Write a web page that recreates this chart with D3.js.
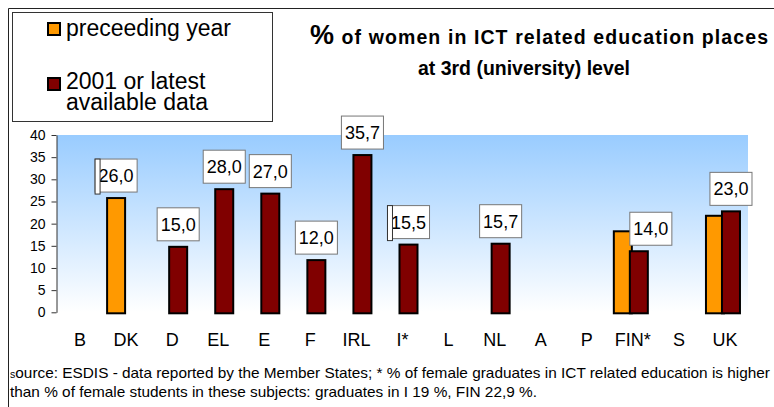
<!DOCTYPE html>
<html><head><meta charset="utf-8">
<script src="https://cdn.jsdelivr.net/npm/d3@7"></script>
<style>html,body{margin:0;padding:0;background:#fff;} svg{display:block;font-family:Arial,"Liberation Sans",sans-serif;}</style>
</head><body><svg id="c" width="774" height="407"></svg>
<script>
// ---- data ----
const categories = ["B","DK","D","EL","E","F","IRL","I*","L","NL","A","P","FIN*","S","UK"];
const precedingYear = [null,26.0,null,null,null,null,null,null,null,null,null,null,18.5,null,22.0];
const latestData    = [null,null,15.0,28.0,27.0,12.0,35.7,15.5,null,15.7,null,null,14.0,null,23.0];
const yTicks = [0,5,10,15,20,25,30,35,40];
const seriesKeys = ["prev","latest"];
const seriesNames = ["preceeding year","2001 or latest available data"];
const labelStubs = ["DK","I*"];
const titleLine1 = ["%"," of women in ICT related education places"];
const titleLine2 = "at 3rd (university) level";
const footSmall = "s";
const footLine1 = "ource: ESDIS - data reported by the Member States; * % of female graduates in ICT related education is higher";
const footLine2 = "than % of female students in these subjects: graduates in I 19 %, FIN 22,9 %.";

// ---- layout ----
const colors = {prev:"#FF9900", latest:"#800000"};
const svg = d3.select("#c");
const plot = {left:57, right:748, top:135, bottom:312.3};

const x = d3.scaleBand().domain(categories).range([plot.left, plot.right]);
const sub = d3.scaleBand().domain(seriesKeys).range([-20, 12]);
const y = d3.scaleLinear().domain([0,40]).range([plot.bottom, plot.top]);
const barW = 20;
const fmt = v => d3.format(".1f")(v).replace(".", ",");

// gradient background
const defs = svg.append("defs");
const grad = defs.append("linearGradient").attr("id","bg").attr("x1",0).attr("y1",0).attr("x2",0).attr("y2",1);
grad.append("stop").attr("offset","0%").attr("stop-color","#99CCFF");
grad.append("stop").attr("offset","100%").attr("stop-color","#FFFFFF");
svg.append("rect").attr("x",plot.left).attr("y",plot.top)
  .attr("width",plot.right-plot.left).attr("height",plot.bottom-plot.top)
  .attr("fill","url(#bg)");

// frame
svg.append("path").attr("d","M8.5,407V8.5H774").attr("fill","none").attr("stroke","#222").attr("stroke-width",1);

// y axis
const yAxis = svg.append("g").attr("transform",`translate(${plot.left-0.5},0)`)
  .call(d3.axisLeft(y).tickValues(yTicks).tickSize(5).tickSizeOuter(0).tickPadding(6));
yAxis.selectAll("text").attr("font-size",14).attr("font-family","Arial,'Liberation Sans',sans-serif").attr("fill","#000");
yAxis.selectAll("line,path").attr("stroke","#333");

// x axis (labels only)
const xAxis = svg.append("g").attr("transform",`translate(0,${plot.bottom})`)
  .call(d3.axisBottom(x).tickSize(0).tickPadding(21));
xAxis.select(".domain").remove();
xAxis.selectAll("text").attr("font-size",18).attr("font-family","Arial,'Liberation Sans',sans-serif").attr("fill","#000");

// bars
const rows = categories.map((c,i)=>({cat:c, prev:precedingYear[i], latest:latestData[i]}));
seriesKeys.forEach(k=>{
  svg.append("g").selectAll("rect").data(rows.filter(r=>r[k]!=null)).join("rect")
    .attr("x", d=> x(d.cat)+x.bandwidth()/2+sub(k)+1)
    .attr("y", d=> y(d[k])+1)
    .attr("width", barW-2)
    .attr("height", d=> y(0)-y(d[k]))
    .attr("fill", colors[k]).attr("stroke","#000").attr("stroke-width",2);
});

// data labels
const labelShift = {"FIN*":12};
const lg = svg.append("g");
rows.forEach(r=>{
  const k = r.latest!=null ? "latest" : (r.prev!=null ? "prev" : null);
  if(!k) return;
  const v = r[k];
  const cx = x(r.cat)+x.bandwidth()/2+sub(k)+barW/2 + (labelShift[r.cat]||0);
  const g = lg.append("g");
  const box = g.append("rect");
  const t = g.append("text").attr("x",cx).attr("text-anchor","middle")
    .attr("font-size",18).attr("fill","#000").text(fmt(v));
  const tw = t.node().getComputedTextLength();
  const bw = tw+7, bh = 33;
  const bottom = y(v)-5;
  box.attr("x",cx-bw/2).attr("y",bottom-bh).attr("width",bw).attr("height",bh)
    .attr("fill","#fff").attr("stroke","#777").attr("stroke-width",1);
  t.attr("y",bottom-10);
  if(labelStubs.includes(r.cat)){
    g.append("rect").attr("x",cx-bw/2).attr("y",bottom-bh).attr("width",5).attr("height",bh+2)
      .attr("fill","#fff").attr("stroke","#333").attr("stroke-width",1);
  }
});

// legend
svg.append("rect").attr("x",12.5).attr("y",12.5).attr("width",260).attr("height",109)
  .attr("fill","#fff").attr("stroke","#333").attr("stroke-width",1);
const legendRows = [{k:"prev", sy:22, lines:[seriesNames[0]], by:[36]},
                    {k:"latest", sy:77, lines:["2001 or latest","available data"], by:[89,110]}];
legendRows.forEach(L=>{
  svg.append("rect").attr("x",48).attr("y",L.sy+1).attr("width",12).attr("height",12)
    .attr("fill",colors[L.k]).attr("stroke","#000").attr("stroke-width",2);
  L.lines.forEach((s,i)=>{
    svg.append("text").attr("x",66).attr("y",L.by[i]).attr("font-size",23).attr("fill","#000").text(s);
  });
});

// title
const t1 = svg.append("text").attr("x",310).attr("y",44).attr("font-weight","bold").attr("fill","#000")
  .attr("textLength",458).attr("lengthAdjust","spacing");
t1.append("tspan").attr("font-size",27).text(titleLine1[0]);
t1.append("tspan").attr("font-size",19.5).text(titleLine1[1]);
svg.append("text").attr("x",524).attr("y",75).attr("text-anchor","middle").attr("font-weight","bold")
  .attr("font-size",19.5).attr("fill","#000").attr("textLength",212).attr("lengthAdjust","spacingAndGlyphs").text(titleLine2);

// footnote
const ff = "'Liberation Sans Narrow','Arial Narrow',Arial,sans-serif";
const f1 = svg.append("text").attr("x",10).attr("y",378).attr("font-family",ff).attr("fill","#000");
f1.append("tspan").attr("font-size",10).text(footSmall);
f1.append("tspan").attr("font-size",14.5).text(footLine1);
const f2 = svg.append("text").attr("x",10).attr("y",397).attr("font-family",ff).attr("font-size",14.5).attr("fill","#000").text(footLine2);
const w1 = f1.node().getComputedTextLength(), w2 = f2.node().getComputedTextLength();
const target1 = 760, sc = target1/w1;
f1.attr("textLength",target1).attr("lengthAdjust","spacingAndGlyphs");
f2.attr("textLength",w2*sc).attr("lengthAdjust","spacingAndGlyphs");
</script></body></html>
